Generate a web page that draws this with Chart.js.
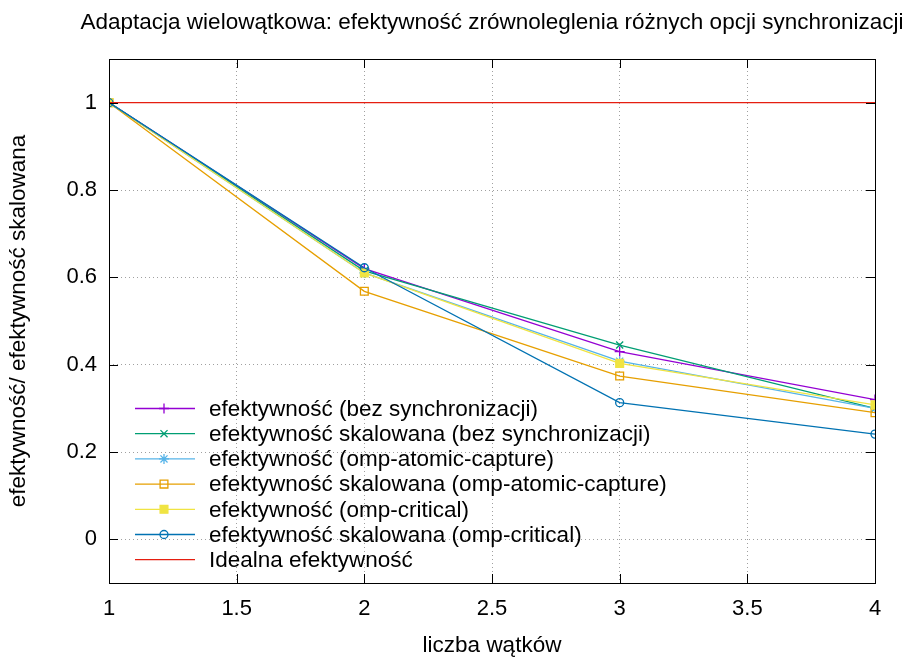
<!DOCTYPE html>
<html>
<head>
<meta charset="utf-8">
<script src="https://cdn.jsdelivr.net/npm/chart.js@4.4.1/dist/chart.umd.min.js"></script>
<style>
  html, body { margin: 0; padding: 0; background: #fff; }
  #wrap { width: 912px; height: 659px; }
</style>
</head>
<body>
<div id="wrap"><canvas id="chart" width="912" height="659"></canvas></div>
<script>
const threads = [1, 2, 3, 4];
const effNoSync = [1, 0.62, 0.43, 0.32];
const effScaledNoSync = [1, 0.615, 0.445, 0.30];
const effAtomic = [1, 0.61, 0.408, 0.30];
const effScaledAtomic = [1, 0.568, 0.374, 0.29];
const effCritical = [1, 0.61, 0.403, 0.308];
const effScaledCritical = [1, 0.622, 0.313, 0.241];
const ideal = [1, 1, 1, 1];
const yTicks = [0, 0.2, 0.4, 0.6, 0.8, 1];
const xTicks = [1, 1.5, 2, 2.5, 3, 3.5, 4];

const FONT = '"Liberation Sans", Arial, sans-serif';

function pts(vals) {
    return threads.map((t, i) => ({ x: t, y: vals[i] }));
}

function series(label, vals, color, style, filled, radius, order) {
    return {
        label: label,
        data: pts(vals),
        borderColor: color,
        backgroundColor: color,
        borderWidth: 1.3,
        pointStyle: style,
        pointRadius: style ? radius : 0,
        pointBorderWidth: 1.3,
        pointBackgroundColor: filled ? color : 'rgba(0,0,0,0)',
        pointBorderColor: color,
        tension: 0,
        fill: false,
        order: order
    };
}

const datasets = [
    series('efektywność (bez synchronizacji)', effNoSync, '#9400d3', 'cross', false, 5, 7),
    series('efektywność skalowana (bez synchronizacji)', effScaledNoSync, '#009e73', 'crossRot', false, 5, 6),
    series('efektywność (omp-atomic-capture)', effAtomic, '#56b4e9', 'star', false, 5, 5),
    series('efektywność skalowana (omp-atomic-capture)', effScaledAtomic, '#e69f00', 'rect', false, 5.5, 4),
    series('efektywność (omp-critical)', effCritical, '#f0e442', 'rect', true, 5.5, 3),
    series('efektywność skalowana (omp-critical)', effScaledCritical, '#0072b2', 'circle', false, 4, 2),
    series('Idealna efektywność', ideal, '#e51e10', false, false, 0, 1)
];

// gnuplot-like frame, inward ticks, title and legend inside the plot
const gnuplotLook = {
    id: 'gnuplotLook',
    afterDatasetsDraw(chart) {
        const ctx = chart.ctx;
        const a = chart.chartArea;
        const xs = chart.scales.x, ys = chart.scales.y;
        ctx.save();
        ctx.strokeStyle = '#000';
        ctx.lineWidth = 1;
        ctx.beginPath();
        xTicks.forEach(v => {
            const px = Math.round(xs.getPixelForValue(v)) + 0.5;
            ctx.moveTo(px, a.bottom); ctx.lineTo(px, a.bottom - 9);
            ctx.moveTo(px, a.top); ctx.lineTo(px, a.top + 9);
        });
        yTicks.forEach(v => {
            const py = Math.round(ys.getPixelForValue(v)) + 0.5;
            ctx.moveTo(a.left, py); ctx.lineTo(a.left + 9, py);
            ctx.moveTo(a.right, py); ctx.lineTo(a.right - 9, py);
        });
        ctx.stroke();
        ctx.strokeRect(Math.round(a.left) + 0.5, Math.round(a.top) + 0.5,
            Math.round(a.right - a.left), Math.round(a.bottom - a.top));

        // title
        ctx.fillStyle = '#000';
        ctx.font = '22.5px ' + FONT;
        ctx.textAlign = 'center';
        ctx.textBaseline = 'middle';
        ctx.fillText('Adaptacja wielowątkowa: efektywność zrównoleglenia różnych opcji synchronizacji',
            (a.left + a.right) / 2, 23);

        // legend
        const x0 = 135, x1 = 195, tx = 209, y0 = 408.5, dy = 25.2;
        ctx.font = '22.5px ' + FONT;
        ctx.textAlign = 'left';
        chart.data.datasets.forEach((ds, i) => {
            const y = y0 + i * dy;
            ctx.strokeStyle = ds.borderColor;
            ctx.lineWidth = 1.3;
            ctx.beginPath();
            ctx.moveTo(x0, y); ctx.lineTo(x1, y);
            ctx.stroke();
            if (ds.pointStyle) {
                ctx.fillStyle = ds.pointBackgroundColor;
                ctx.strokeStyle = ds.borderColor;
                Chart.helpers.drawPoint(ctx, {
                    pointStyle: ds.pointStyle,
                    radius: ds.pointRadius,
                    borderWidth: 1.3
                }, 164, y);
            }
            ctx.fillStyle = '#000';
            ctx.fillText(ds.label, tx, y + 1);
        });
        ctx.restore();
    }
};

new Chart(document.getElementById('chart').getContext('2d'), {
    type: 'line',
    data: { datasets: datasets },
    options: {
        responsive: false,
        animation: false,
        layout: { padding: { top: 59, right: 37, left: 0, bottom: 0 } },
        plugins: {
            legend: { display: false },
            title: { display: false },
            tooltip: { enabled: false }
        },
        scales: {
            x: {
                type: 'linear',
                min: 1,
                max: 4,
                afterBuildTicks: s => { s.ticks = xTicks.map(v => ({ value: v })); },
                afterFit: s => { s.height = 76; },
                grid: {
                    color: '#a0a0a0',
                    lineWidth: 1,
                    drawTicks: false
                },
                border: { display: false, dash: [1, 3] },
                ticks: {
                    color: '#000',
                    font: { family: FONT, size: 22 },
                    padding: 13,
                    maxRotation: 0,
                    callback: v => String(v)
                },
                title: {
                    display: true,
                    text: 'liczba wątków',
                    color: '#000',
                    font: { family: FONT, size: 22.5 },
                    padding: { top: 5, bottom: 0 }
                }
            },
            y: {
                min: -0.1,
                max: 1.1,
                afterBuildTicks: s => { s.ticks = yTicks.map(v => ({ value: v })); },
                afterFit: s => { s.width = 109; },
                grid: {
                    color: '#a0a0a0',
                    lineWidth: 1,
                    drawTicks: false
                },
                border: { display: false, dash: [1, 3] },
                ticks: {
                    color: '#000',
                    font: { family: FONT, size: 22 },
                    padding: 12,
                    callback: v => String(Math.round(v * 10) / 10)
                },
                title: {
                    display: true,
                    text: 'efektywność/ efektywność skalowana',
                    color: '#000',
                    font: { family: FONT, size: 22.5 },
                    padding: { top: 5, bottom: 0 }
                }
            }
        }
    },
    plugins: [gnuplotLook]
});
</script>
</body>
</html>
